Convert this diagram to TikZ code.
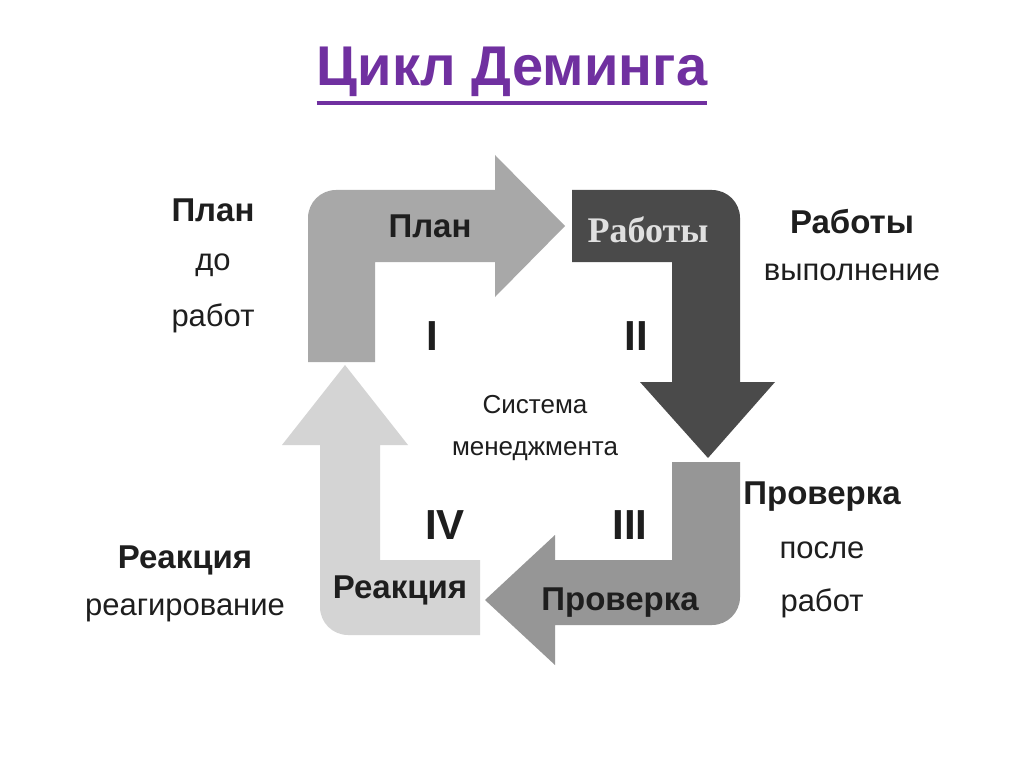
\documentclass[tikz,border=0pt]{standalone}
\usepackage{fontspec}
\setmainfont{Liberation Sans}
\newfontfamily\serifru{Liberation Serif}
\definecolor{ttl}{HTML}{7030A0}
\definecolor{gA}{HTML}{A8A8A8}
\definecolor{gB}{HTML}{4A4A4A}
\definecolor{gC}{HTML}{969696}
\definecolor{gD}{HTML}{D4D4D4}
\definecolor{tx}{HTML}{1E1E1E}
\begin{document}
\begin{tikzpicture}[x=1pt,y=-1pt,
  lbl/.style={font=\fontsize{31}{33}\selectfont, text=tx, inner sep=0},
  blbl/.style={font=\fontsize{33}{35}\selectfont\bfseries, text=tx, inner sep=0},
  num/.style={font=\fontsize{42}{42}\selectfont\bfseries, text=tx, inner sep=0}]
\useasboundingbox[fill=white] (0,0) rectangle (1024,767);
\node[inner sep=0, text=ttl, font=\fontsize{56}{58}\selectfont\bfseries] (title) at (512,72) {Цикл Деминга};
\draw[ttl, line width=4pt] ([yshift=-6pt]title.south west) -- ([yshift=-6pt]title.south east);
% arrow I
\fill[gA] (375,362) -- (308,362) -- (308,218) arc[start angle=180,end angle=270,radius=28] -- (495,190) -- (495,155) -- (565,226) -- (495,297) -- (495,262) -- (375,262) -- cycle;
% arrow II
\fill[gB] (572,262) -- (572,190) -- (712,190) arc[start angle=270,end angle=360,radius=28] -- (740,382) -- (775,382) -- (708,458) -- (640,382) -- (672,382) -- (672,262) -- cycle;
% arrow III
\fill[gC] (672,462) -- (740,462) -- (740,597) arc[start angle=0,end angle=90,radius=28] -- (555,625) -- (555,665) -- (485,600) -- (555,535) -- (555,560) -- (672,560) -- cycle;
% arrow IV
\fill[gD] (480,560) -- (480,635) -- (348,635) arc[start angle=90,end angle=180,radius=28] -- (320,445) -- (282,445) -- (345,365) -- (408,445) -- (380,445) -- (380,560) -- cycle;
\node[blbl] (p1) at (430,226) {План};
\node[inner sep=0, text=white!88!black, font=\fontsize{36}{38}\selectfont\serifru\bfseries] (p2) at (648,230) {Работы};
\node[blbl] (p3) at (620,603) {Проверка};
\node[blbl] (p4) at (400,590) {Реакция};
\node[num] (n1) at (432,336) {I};
\node[num] (n2) at (636,336) {II};
\node[num] (n3) at (630,525) {III};
\node[num] (n4) at (445,525) {IV};
\node[lbl, font=\fontsize{26}{28}\selectfont, align=center] (sys) at (535,428) {Система\\[14pt]менеджмента};
\node[blbl] (l1a) at (213,210) {План};
\node[lbl] (l1b) at (213,265) {до};
\node[lbl] (l1c) at (213,318) {работ};
\node[blbl] (l2a) at (852,222) {Работы};
\node[lbl] (l2b) at (852,272) {выполнение};
\node[blbl] (l3a) at (822,497) {Проверка};
\node[lbl] (l3b) at (822,550) {после};
\node[lbl] (l3c) at (822,603) {работ};
\node[blbl] (l4a) at (185,560) {Реакция};
\node[lbl] (l4b) at (185,610) {реагирование};
\end{tikzpicture}
\end{document}
